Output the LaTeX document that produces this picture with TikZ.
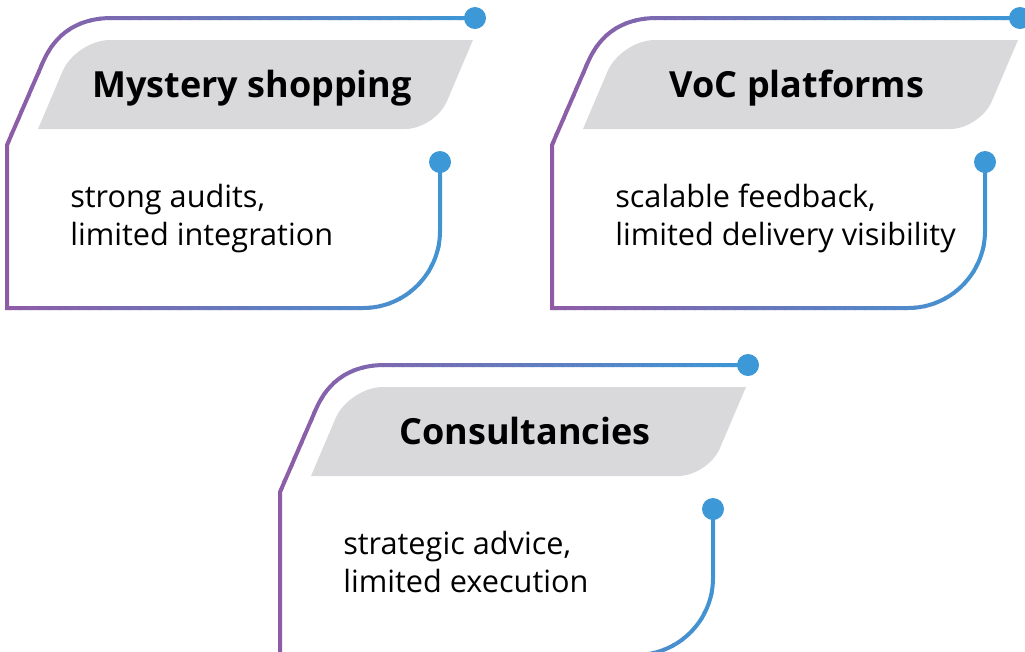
\documentclass[tikz,border=0pt]{standalone}
\usepackage{fontspec}
\setmainfont{Open Sans}
\usetikzlibrary{positioning}

\definecolor{cardpurple}{RGB}{142,92,166}
\definecolor{cardblue}{RGB}{60,152,214}
\definecolor{bannergray}{RGB}{217,216,219}

% outline of one card, in pixel-like units (y grows downwards)
\newcommand\cardoutline{(440,162) -- (440,231)
  .. controls (440,273.5) and (405.5,308) .. (363,308) -- (7,308) -- (7,145)
  -- (43,62) .. controls (55,34.5) and (77,18) .. (112,18) -- (475,18)}
\newcommand\cardbanner{(38,129) -- (62.6,71.2)
  .. controls (70,54) and (91.3,40) .. (110,40) -- (473,40) -- (446.8,101.4)
  .. controls (440.3,116.6) and (421.5,129) .. (405,129) -- cycle}

\tikzset{
  cardline/.style={line width=3pt},
  cardtitle/.style={font=\bfseries\fontsize{27}{31}\selectfont, anchor=base, inner sep=0pt},
  cardtext/.style={font=\fontsize{23}{28.5}\selectfont, align=left, anchor=base west, inner sep=0pt},
  pics/card/.style={code={
    \fill[bannergray] \cardbanner;
    % colour runs from purple to blue, drawn strip by strip
    \foreach \s in {0,...,48}{
      \pgfmathsetmacro\mixpct{max(0,min(100,(10*\s-2)/4.68))}
      \begin{scope}
        \clip (10*\s-0.6,0) rectangle (10*\s+10.6,330);
        \draw[cardline, cardblue!\mixpct!cardpurple] \cardoutline;
      \end{scope}
    }
    \fill[cardblue] (475,18) circle[radius=11];
    \fill[cardblue] (440,162) circle[radius=11];
  }}
}

\begin{document}
\begin{tikzpicture}[x=0.75pt, y=-0.75pt]
  \useasboundingbox (0,0) rectangle (1025,651);
  \clip (0,0) rectangle (1025,651);

  \pic at (0,0) {card};
  \pic at (545,0) {card};
  \pic at (273,347) {card};

  % the text base sits on the last line
  \node[cardtitle] (mystery) at (252,97.5) {Mystery shopping};
  \node[cardtext] (mysterynote) at (70,245) {strong audits,\\limited integration};

  \node[cardtitle] (voc) at (797,97.5) {VoC platforms};
  \node[cardtext] (vocnote) at (615,245) {scalable feedback,\\limited delivery visibility};

  \node[cardtitle] (consult) at (525,444.5) {Consultancies};
  \node[cardtext] (consultnote) at (343,592) {strategic advice,\\limited execution};
\end{tikzpicture}
\end{document}
